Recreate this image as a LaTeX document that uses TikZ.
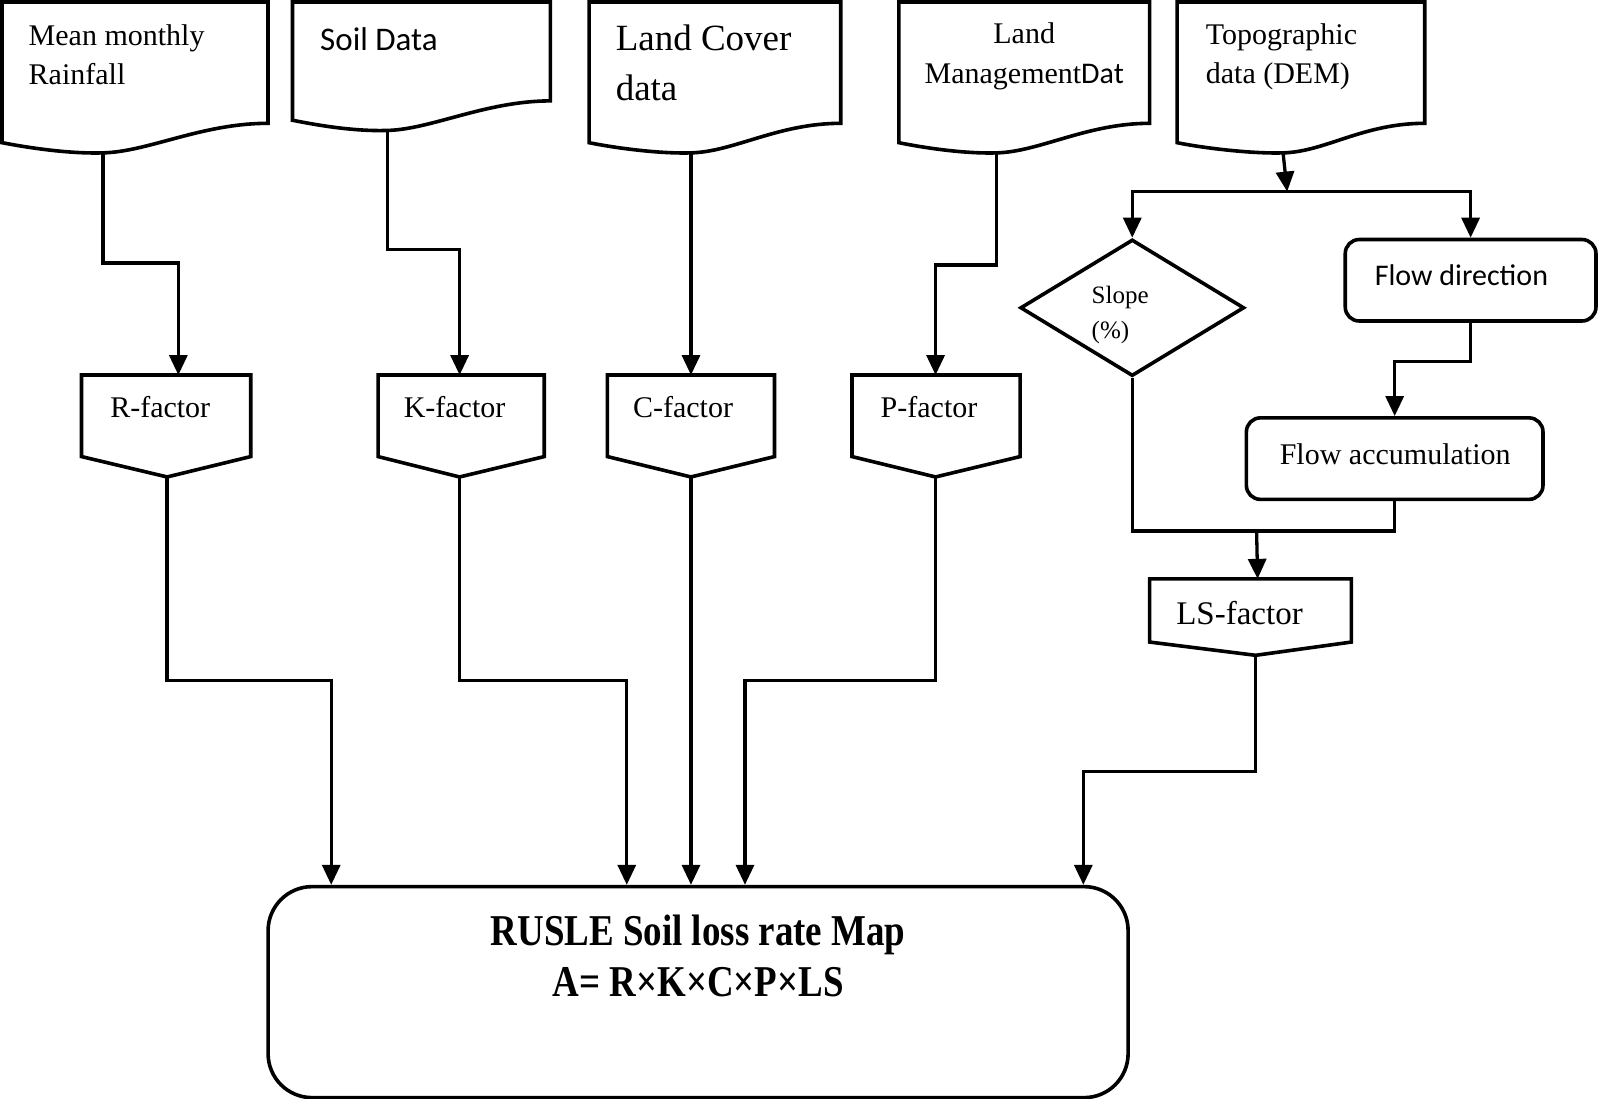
\documentclass[tikz,border=0pt]{standalone}
\usepackage{fontspec}
\setmainfont{Liberation Serif}
\newfontfamily\calfont{Carlito}
\newfontfamily\condfont[FakeStretch=0.84]{Liberation Serif}
\usetikzlibrary{arrows.meta,shapes.geometric,calc}
\newcommand\tf[2]{\fontsize{#1}{#2}\selectfont}
% document symbol: x0, x1, y of right bottom, x of wave minimum, name of out point
\newcommand\docbox[5]{%
  \draw[shp] (#1,2) -- (#2,2) -- (#2,#3)
    .. controls ({#2-0.25*(#2-#1)},#3) and ({#4+0.17*(#2-#1)},{#3+28}) .. (#4,{#3+29})
    .. controls ({#4-0.13*(#2-#1)},{#3+30}) and ({#1+0.1*(#2-#1)},{#3+24}) .. (#1,{#3+19}) -- cycle;
  \coordinate (#5) at (#4,{#3+29});}
% off-page symbol: x0, x1, ytop, yside, xtip, ytip, name of out point
\newcommand\factor[7]{%
  \draw[shp] (#1,#3) -- (#2,#3) -- (#2,#4) -- (#5,#6) -- (#1,#4) -- cycle;
  \coordinate (#7) at (#5,#6);}
\tikzset{
  shp/.style={line width=3.6pt, line join=miter},
  conn/.style={line width=3.3pt},
  arr/.style={conn, -{Triangle[width=18pt,length=20pt]}},
  txt/.style={inner sep=0pt, anchor=north west, align=left},
}
\begin{document}
\begin{tikzpicture}[x=1.0191pt,y=-1.0191pt]
\useasboundingbox (0,0) rectangle (1568,1078);

% data documents
\docbox{2}{263}{121}{101}{rainout}
\node[txt,font=\tf{30}{39}] (rain) at (28,24) {Mean monthly\\Rainfall};
\docbox{287}{540}{99}{380}{soilout}
\node[txt,font=\calfont\tf{33}{40}] (soil) at (314,27) {Soil Data};
\docbox{578}{825}{121}{678}{coverout}
\node[txt,font=\tf{37}{50}] (cover) at (604,24) {Land Cover\\data};
\docbox{882}{1128}{121}{978}{mgmtout}
\node[txt,align=center,anchor=north,font=\tf{30}{40}] (mgmt) at (1005,22) {Land\\Management{\calfont Dat}};
\docbox{1155}{1398}{121}{1259}{topoout}
\node[txt,font=\tf{30}{39}] (topo) at (1183,23) {Topographic\\data (DEM)};

% factor symbols
\factor{80}{246}{368}{448}{164}{468}{Rout}
\node[txt,font=\tf{30}{36}] (R) at (108,389) {R-factor};
\factor{371}{534}{368}{448}{451}{468}{Kout}
\node[txt,font=\tf{30}{36}] (K) at (396,389) {K-factor};
\factor{596}{760}{368}{448}{678}{468}{Cout}
\node[txt,font=\tf{30}{36}] (C) at (621,389) {C-factor};
\factor{836}{1001}{368}{448}{918}{468}{Pout}
\node[txt,font=\tf{30}{36}] (P) at (864,389) {P-factor};
\factor{1128}{1326}{568}{630}{1232}{643}{LSout}
\node[txt,font=\tf{33}{40}] (LS) at (1154,590) {LS-factor};

% inputs to factors
\coordinate (Rbend) at (175,258); \coordinate (Rin) at (175,368);
\coordinate (Kbend) at (451,245); \coordinate (Kin) at (451,368);
\coordinate (Cin) at (678,368);
\coordinate (Pbend) at (918,260); \coordinate (Pin) at (918,368);
\draw[arr] (rainout) |- (Rbend) -- (Rin);
\draw[arr] (soilout) |- (Kbend) -- (Kin);
\draw[arr] (coverout) -- (Cin);
\draw[arr] (mgmtout) |- (Pbend) -- (Pin);

% topographic branch
\node[shp,draw,diamond,minimum width=224pt,minimum height=136.6pt,inner sep=0pt] (slope) at (1111,302) {};
\node[txt,font=\tf{25}{35}] (slopetxt) at (1071,281) {Slope\\(\%)};
\node[shp,draw,rounded corners=14pt,minimum width=250.7pt,minimum height=81.5pt,inner sep=0pt] (fdir) at (1443,275) {};
\node[inner sep=0pt,font=\calfont\tf{30}{36}] (fdirtxt) at (1434,270) {Flow direction};
\node[shp,draw,rounded corners=14pt,minimum width=296.6pt,minimum height=81.5pt,inner sep=0pt] (facc) at (1368.5,450) {};
\node[inner sep=0pt,font=\tf{30}{36}] (facctxt) at (1369,446) {Flow accumulation};
\coordinate (split) at (1263,188);
\draw[arr] (topoout) -- (split);
\draw[arr] (split) -| (slope.north);
\draw[arr] (split) -| (fdir.north);
\coordinate (fbend) at (1368.5,355);
\draw[arr] (fdir.south) |- (fbend) -- (facc.north);
\coordinate (merge) at (1233,521);
\coordinate (LSin) at (1234,568);
\draw[conn] (slope.south) |- (merge) -| (facc.south);
\draw[arr] (merge) -- (LSin);

% final map
\node[shp,draw,rounded corners=44pt,minimum width=860pt,minimum height=211pt,inner sep=0pt] (rusle) at (685,973.5) {};
\node[inner sep=0pt,anchor=north,align=center,font=\condfont\bfseries\tf{44}{51}] (rusletxt) at (685,898) {RUSLE Soil loss rate Map\\A= R×K×C×P×LS};
\coordinate (jR) at (325,668);
\coordinate (jK) at (615,668);
\coordinate (jP) at (731,668);
\coordinate (jLS) at (1063,757);
\draw[arr] (Rout) |- (jR) -- (jR |- rusle.north);
\draw[arr] (Kout) |- (jK) -- (jK |- rusle.north);
\draw[arr] (Cout) -- (Cout |- rusle.north);
\draw[arr] (Pout) |- (jP) -- (jP |- rusle.north);
\draw[arr] (LSout) |- (jLS) -- (jLS |- rusle.north);
\end{tikzpicture}
\end{document}
